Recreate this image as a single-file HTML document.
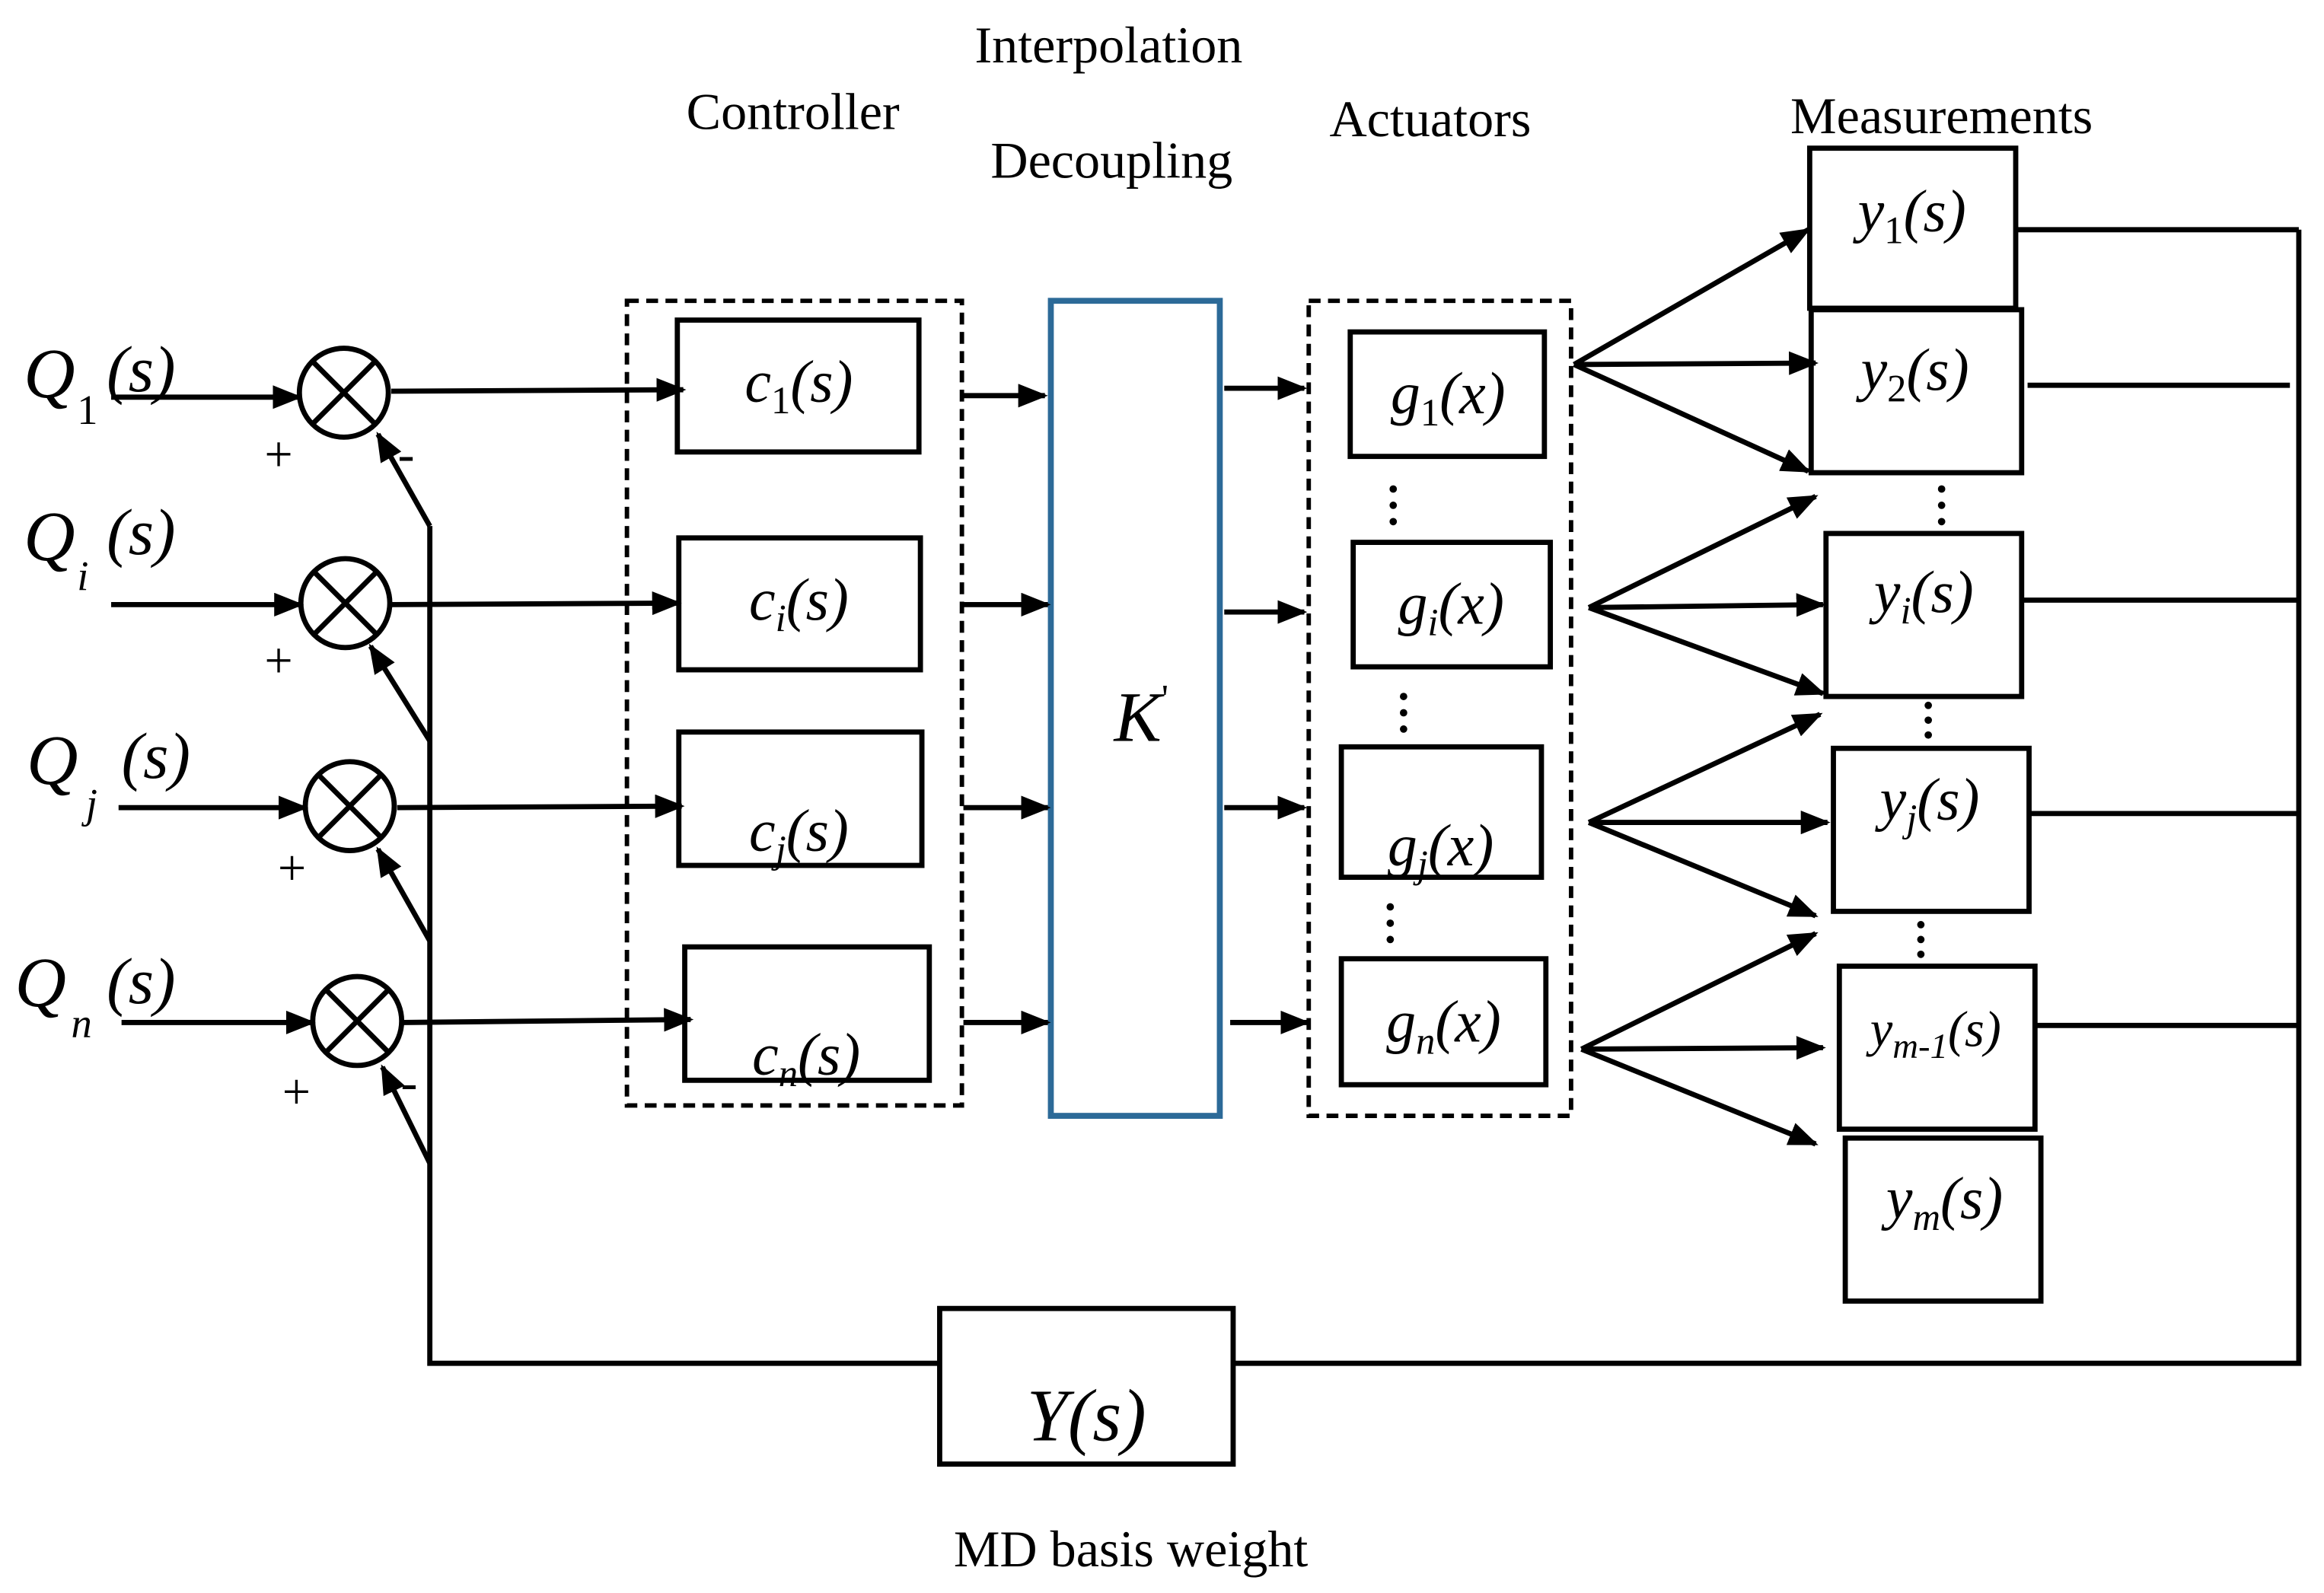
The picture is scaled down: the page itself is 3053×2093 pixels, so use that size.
<!DOCTYPE html>
<html><head><meta charset="utf-8"><style>
html,body{margin:0;padding:0;background:#fff}
svg{display:block}
text{font-family:"Liberation Serif",serif;fill:#000}
.m{font-style:italic;font-size:40px}
.l{font-size:35px}
.s{font-style:normal}
</style></head><body>
<svg width="3053" height="2093" viewBox="0 0 1568 1075" preserveAspectRatio="none" xmlns="http://www.w3.org/2000/svg">
<defs>
<marker id="b" viewBox="0 0 10 8" refX="9" refY="4" markerWidth="20" markerHeight="16" orient="auto" markerUnits="userSpaceOnUse"><path d="M0,0L10,4L0,8z" fill="#000"/></marker></defs>
<text class="l" x="748" y="42" text-anchor="middle">Interpolation</text>
<text class="l" x="535" y="87" text-anchor="middle">Controller</text>
<text class="l" x="750" y="120" text-anchor="middle">Decoupling</text>
<text class="l" x="965" y="92" text-anchor="middle">Actuators</text>
<text class="l" x="1310" y="90" text-anchor="middle">Measurements</text>
<text class="l" x="763" y="1057" text-anchor="middle">MD basis weight</text>

<g fill="none" stroke="#000" stroke-width="3.5">
<rect x="423" y="203" width="226" height="543" stroke-dasharray="8,5" stroke-width="3"/>
<rect x="883" y="203" width="177" height="550" stroke-dasharray="8,5" stroke-width="3"/>
<rect x="709" y="203" width="114" height="550" stroke="#2c6a98" stroke-width="4"/>
<rect x="457" y="216" width="163" height="89"/>
<rect x="458" y="363" width="163" height="89"/>
<rect x="458" y="494" width="164" height="90"/>
<rect x="462" y="639" width="165" height="90"/>
<rect x="911" y="224" width="131" height="84"/>
<rect x="913" y="366" width="133" height="84"/>
<rect x="905" y="504" width="135" height="88"/>
<rect x="905" y="647" width="138" height="85"/>
<rect x="1221" y="100" width="139" height="108"/>
<rect x="1222" y="209" width="142" height="110"/>
<rect x="1232" y="360" width="132" height="110"/>
<rect x="1237" y="505" width="132" height="110"/>
<rect x="1241" y="652" width="132" height="110"/>
<rect x="1245" y="768" width="132" height="110"/>
<rect x="634" y="883" width="198" height="105"/>
<g stroke-width="3.5">
<circle cx="232" cy="265" r="30"/><path d="M211,244L253,286M253,244L211,286"/>
<circle cx="233" cy="407" r="30"/><path d="M212,386L254,428M254,386L212,428"/>
<circle cx="236" cy="544" r="30"/><path d="M215,523L257,565M257,523L215,565"/>
<circle cx="241" cy="689" r="30"/><path d="M220,668L262,710M262,668L220,710"/>
</g>
<path d="M290,355V920H634M832,920H1551V155"/>
<path d="M1360,155H1551M1368,260H1545M1364,405H1551M1369,549H1551M1373,692H1551"/>
<path d="M290,355L255,293" marker-end="url(#b)"/>
<path d="M290,500L250,436" marker-end="url(#b)"/>
<path d="M290,635L255,573" marker-end="url(#b)"/>
<path d="M290,785L258,720" marker-end="url(#b)"/>
<path d="M75,268H202" marker-end="url(#b)"/>
<path d="M75,408H203" marker-end="url(#b)"/>
<path d="M80,545H206" marker-end="url(#b)"/>
<path d="M82,690H211" marker-end="url(#b)"/>
<path d="M264,264L461,263" marker-end="url(#b)"/>
<path d="M264,408L458,407" marker-end="url(#b)"/>
<path d="M268,545L460,544" marker-end="url(#b)"/>
<path d="M272,690L466,688" marker-end="url(#b)"/>
<path d="M650,267H705" marker-end="url(#b)"/>
<path d="M650,408H707" marker-end="url(#b)"/>
<path d="M650,545H707" marker-end="url(#b)"/>
<path d="M650,690H707" marker-end="url(#b)"/>
<path d="M826,262H880" marker-end="url(#b)"/>
<path d="M826,413H880" marker-end="url(#b)"/>
<path d="M826,545H880" marker-end="url(#b)"/>
<path d="M830,690H882" marker-end="url(#b)"/>
<path d="M1062,246L1220,155" marker-end="url(#b)"/>
<path d="M1062,246L1225,245" marker-end="url(#b)"/>
<path d="M1062,246L1220,318" marker-end="url(#b)"/>
<path d="M1072,410L1225,335" marker-end="url(#b)"/>
<path d="M1072,410L1230,408" marker-end="url(#b)"/>
<path d="M1072,410L1230,468" marker-end="url(#b)"/>
<path d="M1072,555L1228,482" marker-end="url(#b)"/>
<path d="M1072,555L1233,555" marker-end="url(#b)"/>
<path d="M1072,555L1225,618" marker-end="url(#b)"/>
<path d="M1067,708L1225,630" marker-end="url(#b)"/>
<path d="M1067,708L1230,707" marker-end="url(#b)"/>
<path d="M1067,708L1225,772" marker-end="url(#b)"/>
</g>
<g fill="#000">
<circle cx="940" cy="330" r="2.5"/><circle cx="940" cy="341" r="2.5"/><circle cx="940" cy="352" r="2.5"/>
<circle cx="947" cy="470" r="2.5"/><circle cx="947" cy="481" r="2.5"/><circle cx="947" cy="492" r="2.5"/>
<circle cx="938" cy="612" r="2.5"/><circle cx="938" cy="623" r="2.5"/><circle cx="938" cy="634" r="2.5"/>
<circle cx="1310" cy="330" r="2.5"/><circle cx="1310" cy="341" r="2.5"/><circle cx="1310" cy="352" r="2.5"/>
<circle cx="1301" cy="476" r="2.5"/><circle cx="1301" cy="486" r="2.5"/><circle cx="1301" cy="496" r="2.5"/>
<circle cx="1296" cy="624" r="2.5"/><circle cx="1296" cy="634" r="2.5"/><circle cx="1296" cy="644" r="2.5"/>
</g>
<text x="188" y="318" font-size="34" text-anchor="middle">+</text>
<text x="188" y="457" font-size="34" text-anchor="middle">+</text>
<text x="197" y="597" font-size="34" text-anchor="middle">+</text>
<text x="200" y="748" font-size="34" text-anchor="middle">+</text>
<text x="274" y="318" font-size="34" text-anchor="middle">-</text>
<text x="276" y="742" font-size="34" text-anchor="middle">-</text>
<g font-style="italic" font-size="48">
<text x="16" y="268">Q</text><text x="52" y="286" font-size="28" class="s">1</text><text x="72" y="264" font-size="44">(s)</text>
<text x="16" y="378">Q</text><text x="52" y="398" font-size="28">i</text><text x="72" y="374" font-size="44">(s)</text>
<text x="18" y="529">Q</text><text x="58" y="552" font-size="28">j</text><text x="82" y="525" font-size="44">(s)</text>
<text x="10" y="679">Q</text><text x="48" y="700" font-size="28">n</text><text x="72" y="677" font-size="44">(s)</text>
</g>
<text class="m" x="539" y="271" text-anchor="middle">c<tspan font-size="26" dy="8" class="s">1</tspan><tspan dy="-8">(s)</tspan></text>
<text class="m" x="539" y="418" text-anchor="middle">c<tspan font-size="26" dy="8">i</tspan><tspan dy="-8">(s)</tspan></text>
<text class="m" x="539" y="574" text-anchor="middle">c<tspan font-size="26" dy="8">j</tspan><tspan dy="-8">(s)</tspan></text>
<text class="m" x="544" y="725" text-anchor="middle">c<tspan font-size="26" dy="8">n</tspan><tspan dy="-8">(s)</tspan></text>
<text x="770" y="500" font-style="italic" font-size="48" text-anchor="middle">K<tspan font-size="26" dy="-20" class="s">'</tspan></text>
<text class="m" x="977" y="279" text-anchor="middle">g<tspan font-size="26" dy="8" class="s">1</tspan><tspan dy="-8">(x)</tspan></text>
<text class="m" x="979" y="421" text-anchor="middle">g<tspan font-size="26" dy="8">i</tspan><tspan dy="-8">(x)</tspan></text>
<text class="m" x="972" y="584" text-anchor="middle">g<tspan font-size="26" dy="8">j</tspan><tspan dy="-8">(x)</tspan></text>
<text class="m" x="974" y="703" text-anchor="middle">g<tspan font-size="26" dy="8">n</tspan><tspan dy="-8">(x)</tspan></text>
<text class="m" x="1290" y="156" text-anchor="middle">y<tspan font-size="26" dy="8" class="s">1</tspan><tspan dy="-8">(s)</tspan></text>
<text class="m" x="1292" y="263" text-anchor="middle">y<tspan font-size="26" dy="8" class="s">2</tspan><tspan dy="-8">(s)</tspan></text>
<text class="m" x="1298" y="413" text-anchor="middle">y<tspan font-size="26" dy="8">i</tspan><tspan dy="-8">(s)</tspan></text>
<text class="m" x="1302" y="553" text-anchor="middle">y<tspan font-size="26" dy="8">j</tspan><tspan dy="-8">(s)</tspan></text>
<text x="1306" y="706" font-style="italic" font-size="34" text-anchor="middle">y<tspan font-size="24" dy="8">m-1</tspan><tspan dy="-8">(s)</tspan></text>
<text class="m" x="1312" y="822" text-anchor="middle">y<tspan font-size="26" dy="8">m</tspan><tspan dy="-8">(s)</tspan></text>
<text x="733" y="972" font-style="italic" font-size="50" text-anchor="middle">Y(s)</text>
</svg>
</body></html>
